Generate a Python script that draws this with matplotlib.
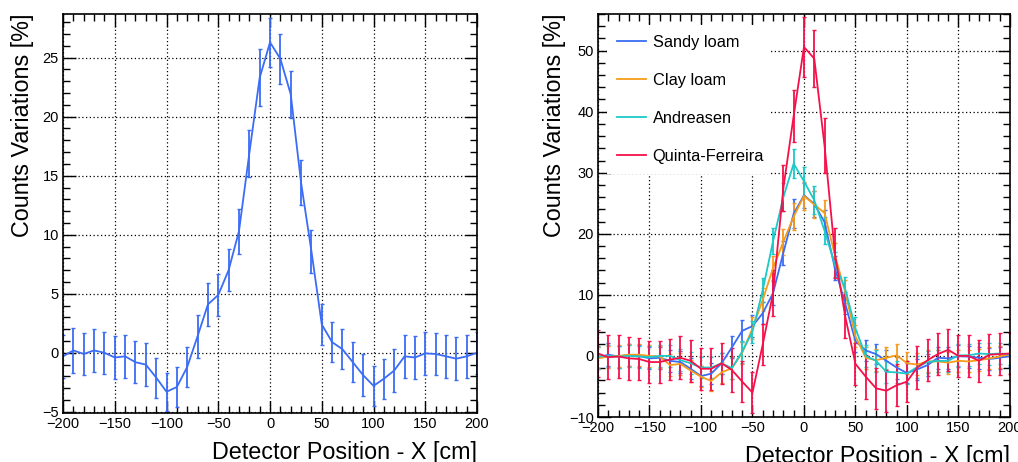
import matplotlib
matplotlib.use("Agg")
import matplotlib.pyplot as plt
from matplotlib.ticker import MultipleLocator

plt.rcParams['font.family'] = ['Liberation Sans', 'DejaVu Sans']

# detector positions (cm)
pos = [-200, -190, -180, -170, -160, -150, -140, -130, -120, -110,
       -100, -90, -80, -70, -60, -50, -40, -30, -20, -10,
       0, 10, 20, 30, 40, 50, 60, 70, 80, 90,
       100, 110, 120, 130, 140, 150, 160, 170, 180, 190, 200]

# Sandy loam
sandy = [-0.3, 0.2, -0.1, 0.2, 0.0, -0.4, -0.3, -0.8, -1.0, -2.1,
         -3.3, -2.9, -1.2, 1.4, 4.1, 4.9, 7.0, 10.3, 16.9, 23.3,
         26.3, 24.9, 21.9, 14.4, 8.6, 2.4, 0.9, 0.3, -0.8, -1.9,
         -2.8, -2.2, -1.5, -0.3, -0.4, -0.05, -0.1, -0.3, -0.5, -0.3, 0.0]
sandy_err = [1.8, 1.9, 1.8, 1.8, 1.8, 1.8, 1.8, 1.8, 1.8, 1.7,
             1.6, 1.7, 1.7, 1.8, 1.8, 1.8, 1.8, 1.9, 2.0, 2.4,
             2.1, 2.1, 2.0, 1.9, 1.8, 1.7, 1.7, 1.7, 1.7, 1.8,
             1.7, 1.7, 1.8, 1.8, 1.8, 1.8, 1.8, 1.8, 1.8, 1.8, 1.8]

# Clay loam
clay = [-0.4, -0.1, 0.0, 0.2, 0.2, 0.0, -0.1, -1.5, -1.3, -2.4,
        -3.4, -4.1, -2.7, -2.0, 0.5, 4.5, 9.2, 14.4, 18.7, 22.8,
        26.2, 24.8, 23.4, 16.5, 10.5, 3.2, -0.3, -0.7, -0.3, 0.1,
        -1.2, -1.4, -0.9, -0.9, -1.1, -0.8, -0.9, -0.7, -0.4, -0.1, 0.3]
clay_err = [1.8, 1.8, 1.8, 1.8, 1.8, 1.8, 1.8, 1.8, 1.8, 1.8,
            1.7, 1.7, 1.7, 1.8, 1.8, 1.8, 1.9, 2.0, 2.1, 2.2,
            2.3, 2.2, 2.1, 2.0, 1.9, 1.8, 1.8, 1.8, 1.8, 1.8,
            1.8, 1.8, 1.8, 1.8, 1.8, 1.8, 1.8, 1.8, 1.8, 1.8, 1.8]

# Andreasen
andreasen = [-0.1, 0.0, -0.1, 0.0, -0.1, -0.2, 0.0, 0.0, -0.7, -1.2,
             -1.9, -1.9, -1.2, -2.0, 0.7, 4.0, 10.8, 18.8, 26.0, 31.5,
             28.6, 25.5, 20.5, 15.0, 11.0, 4.5, 0.0, -0.8, -2.6, -2.7,
             -2.9, -1.8, -1.0, -0.8, -0.8, 0.1, 0.1, 0.4, 0.3, 0.4, 0.3]
andreasen_err = [1.8, 1.8, 1.8, 1.8, 1.8, 1.8, 1.8, 1.8, 1.8, 1.8,
                 1.7, 1.7, 1.7, 1.8, 1.8, 1.8, 2.0, 2.1, 2.3, 2.4,
                 2.4, 2.3, 2.2, 2.0, 1.9, 1.8, 1.8, 1.8, 1.8, 1.8,
                 1.7, 1.8, 1.8, 1.8, 1.8, 1.8, 1.8, 1.8, 1.8, 1.8, 1.8]

# Quinta-Ferreira
quinta = [0.4, -0.2, -0.1, -0.4, -0.5, -1.0, -1.0, -0.6, -0.3, -0.8,
          -2.1, -2.1, -1.2, -2.3, -4.2, -6.0, 1.9, 10.3, 27.5, 39.3,
          50.6, 48.7, 34.4, 16.8, 6.5, -1.3, -3.4, -5.3, -5.7, -4.8,
          -4.2, -1.9, -0.7, 0.3, 1.0, 0.0, 0.0, -0.8, 0.2, 0.3, 0.4]
quinta_err = [3.9, 3.6, 3.5, 3.5, 3.5, 3.5, 3.5, 3.4, 3.5, 3.4,
              3.4, 3.4, 3.4, 3.6, 3.3, 3.3, 3.4, 3.8, 3.7, 4.2,
              4.9, 4.7, 4.5, 4.1, 3.6, 3.5, 3.6, 3.4, 3.4, 3.4,
              3.4, 3.5, 3.4, 3.4, 3.4, 3.4, 3.4, 3.4, 3.4, 3.4, 3.4]

series = [("Sandy loam", sandy, sandy_err, "#3b6cf5"),
          ("Clay loam", clay, clay_err, "#f59c1a"),
          ("Andreasen", andreasen, andreasen_err, "#1ec8c8"),
          ("Quinta-Ferreira", quinta, quinta_err, "#f5104a")]


def style_axes(ax, ymaj, ymin):
    ax.set_xlim(-200, 200)
    ax.xaxis.set_major_locator(MultipleLocator(50))
    ax.xaxis.set_minor_locator(MultipleLocator(10))
    ax.yaxis.set_major_locator(MultipleLocator(ymaj))
    ax.yaxis.set_minor_locator(MultipleLocator(ymin))
    ax.tick_params(which='both', direction='in', top=True, right=True,
                   labelsize=10.5, pad=3)
    ax.tick_params(which='major', length=9, width=1.0)
    ax.tick_params(which='minor', length=5, width=1.0)
    ax.grid(True, which='major', color='black', linestyle=(0, (1, 2)),
            linewidth=0.9)
    for sp in ax.spines.values():
        sp.set_linewidth(1.2)
    ax.text(1.0, -0.07, "Detector Position - X [cm]", transform=ax.transAxes,
            ha='right', va='top', fontsize=16.8)


fig = plt.figure(figsize=(10.18, 4.62), dpi=100)

# left panel ------------------------------
ax1 = fig.add_axes([0.0619, 0.1061, 0.4067, 0.8636])
ax1.errorbar(pos, sandy, yerr=sandy_err, color="#3b6cf5", lw=1.3,
             elinewidth=1.3, capsize=1.5, capthick=1.0)
ax1.set_ylim(-5.1, 28.7)
style_axes(ax1, 5, 1)
ax1.text(-0.098, 1.0, "Counts Variations [%]", transform=ax1.transAxes,
         rotation=90, ha='center', va='top', fontsize=16.8)

# right panel ------------------------------
ax2 = fig.add_axes([0.5874, 0.0974, 0.4047, 0.8723])
for name, vals, errs, col in series:
    ax2.errorbar(pos, vals, yerr=errs, color=col, lw=1.3, elinewidth=1.3,
                 capsize=1.5, capthick=1.0, label=name)
ax2.set_ylim(-10, 56)
style_axes(ax2, 10, 2)
ax2.text(-0.105, 1.0, "Counts Variations [%]", transform=ax2.transAxes,
         rotation=90, ha='center', va='top', fontsize=16.8)

handles, labels = ax2.get_legend_handles_labels()
handles = [h[0] for h in handles]
leg = ax2.legend(handles, labels, loc='upper left',
                 bbox_to_anchor=(0.023, 0.6055, 0.394, 0.367), mode='expand',
                 borderaxespad=0, fontsize=11.8, frameon=True, fancybox=False,
                 handlelength=1.75, handletextpad=0.4, labelspacing=1.4,
                 borderpad=0.6)
leg.get_frame().set_facecolor('white')
leg.get_frame().set_edgecolor('none')
leg.get_frame().set_alpha(1.0)
leg.set_zorder(5)

fig.savefig("out.png", dpi=100)
